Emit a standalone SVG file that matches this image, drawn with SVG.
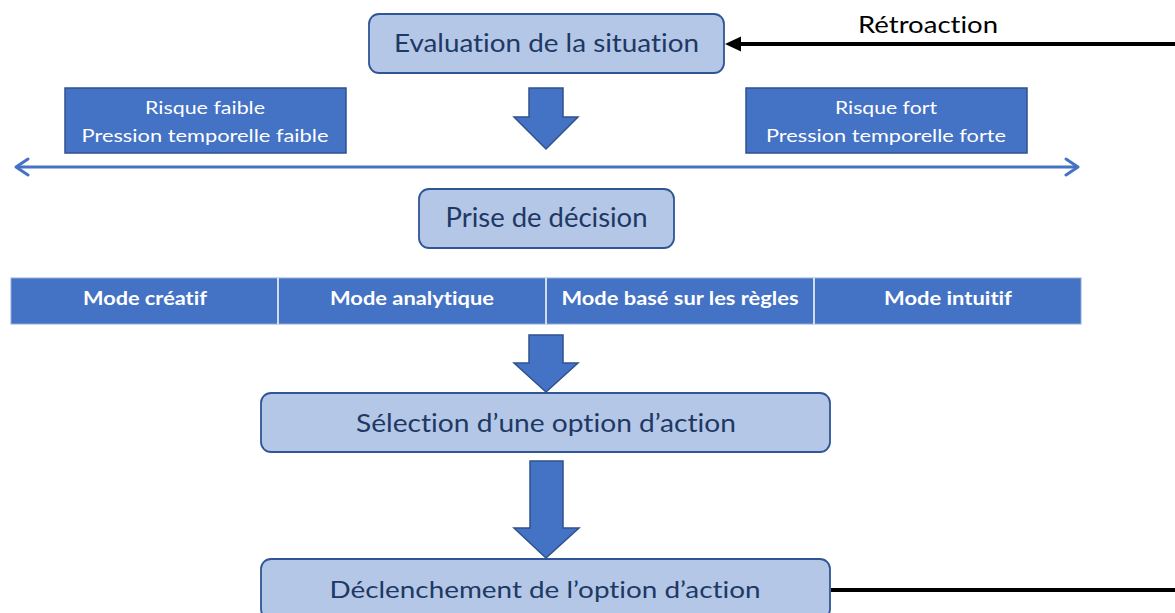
<svg xmlns="http://www.w3.org/2000/svg" width="1175" height="613" viewBox="0 0 1175 613">
<defs>
<style>
text{font-variant-ligatures:none}
.light{fill:#B4C7E7;stroke:#2F5597;stroke-width:1.8}
.dark{fill:#4472C4;stroke:#2F528F;stroke-width:1.5}
.lt{font-family:Lato,"Liberation Sans",sans-serif;fill:#203864;text-anchor:middle}
.wt{font-family:Lato,"Liberation Sans",sans-serif;fill:#FFFFFF;text-anchor:middle;font-size:18px}
.mt{font-family:Lato,"Liberation Sans",sans-serif;fill:#FFFFFF;text-anchor:middle;font-size:18.5px;font-weight:bold}
.blk{fill:#4472C4;stroke:#2F528F;stroke-width:1.5;stroke-linejoin:miter}
</style>
<marker id="chev" viewBox="0 0 16 20" refX="14" refY="10" markerWidth="16" markerHeight="20" markerUnits="userSpaceOnUse" orient="auto-start-reverse">
<path d="M2,2 L14,10 L2,18" fill="none" stroke="#4472C4" stroke-width="3" stroke-linecap="round" stroke-linejoin="round"/>
</marker>
</defs>
<rect width="1175" height="613" fill="#FFFFFF"/>

<g id="connectors">
<line x1="16" y1="167" x2="1078" y2="167" stroke="#4472C4" stroke-width="3" marker-start="url(#chev)" marker-end="url(#chev)"/>
<line x1="1175" y1="44" x2="738" y2="44" stroke="#000000" stroke-width="4"/>
<polygon points="725,44 741,36.5 741,51.5" fill="#000000"/>
<line x1="831" y1="590" x2="1175" y2="590" stroke="#000000" stroke-width="4"/>
<path class="blk" d="M529,88 L563,88 L563,117 L578,117 L546,149 L514,117 L529,117 Z"/>
<path class="blk" d="M529,335 L563,335 L563,363 L578,363 L546,392 L514,363 L529,363 Z"/>
<path class="blk" d="M530,461 L563,461 L563,528 L579,528 L546,558 L514,528 L530,528 Z"/>
</g>

<g id="eval">
<rect class="light" x="369" y="14" width="355" height="59" rx="10"/>
<text class="lt" x="546.5" y="52" font-size="25" textLength="305" lengthAdjust="spacingAndGlyphs">Evaluation de la situation</text>
</g>

<g id="retroaction">
<text x="928" y="33" font-family="Lato,'Liberation Sans',sans-serif" font-size="24" fill="#000000" text-anchor="middle" textLength="140" lengthAdjust="spacingAndGlyphs">Rétroaction</text>
</g>

<g id="risque-faible">
<rect class="dark" x="65" y="88" width="281" height="65"/>
<text class="wt" x="205" y="114" textLength="120" lengthAdjust="spacingAndGlyphs">Risque faible</text>
<text class="wt" x="205" y="142" textLength="247" lengthAdjust="spacingAndGlyphs">Pression temporelle faible</text>
</g>

<g id="risque-fort">
<rect class="dark" x="746" y="88" width="281" height="65"/>
<text class="wt" x="886" y="114" textLength="102" lengthAdjust="spacingAndGlyphs">Risque fort</text>
<text class="wt" x="886" y="142" textLength="240" lengthAdjust="spacingAndGlyphs">Pression temporelle forte</text>
</g>

<g id="prise">
<rect class="light" x="419" y="189" width="255" height="59" rx="10"/>
<text class="lt" x="546.5" y="227" font-size="26" textLength="202" lengthAdjust="spacingAndGlyphs">Prise de décision</text>
</g>

<g id="modes">
<rect x="11" y="278" width="1070" height="46" fill="#4472C4" stroke="#8FAADC" stroke-width="1"/>
<line x1="278" y1="278" x2="278" y2="324" stroke="#FFFFFF" stroke-width="1.5"/>
<line x1="546" y1="278" x2="546" y2="324" stroke="#FFFFFF" stroke-width="1.5"/>
<line x1="814" y1="278" x2="814" y2="324" stroke="#FFFFFF" stroke-width="1.5"/>
<text class="mt" x="145" y="305" textLength="124" lengthAdjust="spacingAndGlyphs">Mode créatif</text>
<text class="mt" x="412" y="305" textLength="164" lengthAdjust="spacingAndGlyphs">Mode analytique</text>
<text class="mt" x="680" y="305" textLength="237" lengthAdjust="spacingAndGlyphs">Mode basé sur les règles</text>
<text class="mt" x="948" y="305" textLength="128" lengthAdjust="spacingAndGlyphs">Mode intuitif</text>
</g>

<g id="selection">
<rect class="light" x="261" y="393" width="569" height="59" rx="10"/>
<text class="lt" x="546" y="432" font-size="25" textLength="380" lengthAdjust="spacingAndGlyphs">Sélection d’une option d’action</text>
</g>

<g id="declenchement">
<rect class="light" x="261" y="559" width="569" height="60" rx="10"/>
<text class="lt" x="545" y="598" font-size="24" textLength="431" lengthAdjust="spacingAndGlyphs">Déclenchement de l’option d’action</text>
</g>
</svg>
